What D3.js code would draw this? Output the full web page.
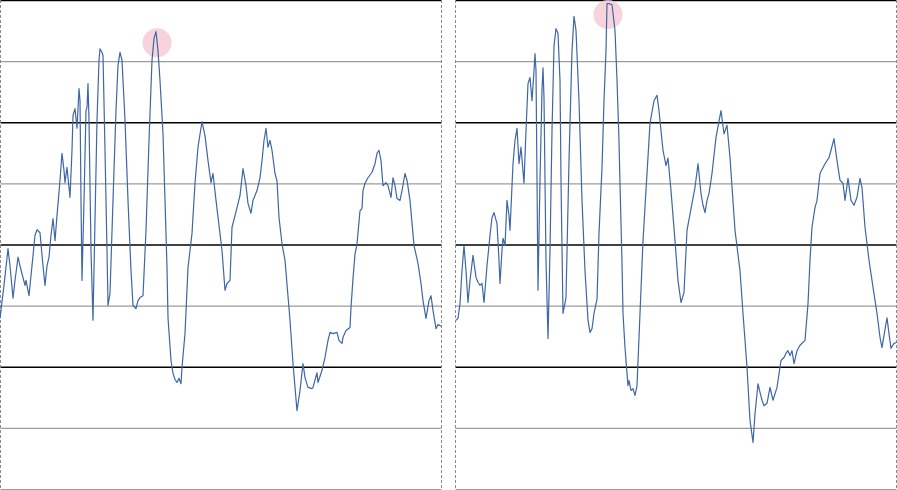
<!DOCTYPE html>
<html>
<head>
<meta charset="utf-8">
<script src="https://cdn.jsdelivr.net/npm/d3@7"></script>
<style>
  html, body { margin: 0; padding: 0; background: #ffffff; }
  svg { display: block; }
</style>
</head>
<body>
<svg id="chart" width="897" height="490"></svg>
<script>
// ---- data (sample index, value on a 0–80 scale) ----
const gridValues = [0, 10, 20, 30, 40, 50, 60, 70, 80];

const leftT = [
  0, 4, 8, 10, 13, 15, 18, 20, 22, 25,
  26, 29, 32, 35, 37, 40, 43, 45, 47, 49,
  51, 53, 55, 57, 60, 62, 64, 65, 67, 70,
  72, 73, 75, 77, 79, 80, 81, 82, 84, 86,
  87, 88, 89, 91, 93, 95, 97, 99, 100, 102,
  103, 105, 107, 108, 110, 113, 116, 118, 120, 122,
  125, 128, 131, 133, 136, 138, 140, 143, 146, 149,
  152, 154, 156, 158, 160, 163, 165, 167, 168, 171,
  173, 175, 177, 179, 181, 182, 185, 188, 192, 195,
  198, 202, 205, 208, 211, 213, 216, 219, 222, 225,
  227, 230, 232, 235, 237, 240, 243, 246, 248, 251,
  253, 257, 260, 262, 264, 266, 268, 270, 272, 275,
  277, 279, 282, 285, 290, 293, 295, 297, 300, 303,
  305, 308, 312, 313, 317, 318, 322, 325, 328, 330,
  333, 337, 339, 342, 343, 346, 350, 351, 353, 355,
  357, 360, 362, 363, 365, 368, 372, 375, 377, 379,
  381, 383, 386, 388, 391, 393, 395, 397, 400, 402,
  405, 407, 410, 414, 418, 421, 423, 426, 429, 431,
  433, 436, 438, 441
];
const leftV = [
  28.0, 33.4, 39.4, 36.6, 31.3, 34.2, 38.0, 36.6, 35.3, 33.4,
  34.2, 31.7, 36.6, 41.6, 42.5, 42.0, 36.6, 33.4, 36.6, 38.0,
  41.6, 44.3, 40.7, 44.8, 50.6, 55.0, 52.2, 50.2, 52.7, 47.8,
  55.5, 61.2, 62.3, 59.1, 65.6, 63.6, 47.3, 34.2, 47.3, 62.0,
  62.5, 66.4, 60.4, 39.1, 27.7, 44.0, 60.4, 70.2, 72.1, 71.5,
  71.0, 55.5, 39.1, 30.1, 32.1, 47.3, 62.0, 69.4, 71.5, 70.2,
  60.4, 47.3, 35.8, 30.1, 29.6, 30.9, 31.4, 31.7, 42.4, 57.1,
  70.2, 73.8, 74.9, 71.8, 66.9, 58.2, 47.3, 36.3, 28.1, 21.1,
  19.0, 18.0, 17.5, 18.2, 17.3, 20.0, 25.5, 36.3, 41.9, 50.1,
  56.0, 60.2, 57.9, 53.8, 50.2, 51.7, 47.3, 43.2, 39.1, 32.6,
  33.7, 34.2, 42.9, 44.8, 46.1, 48.1, 52.5, 49.7, 46.8, 45.2,
  47.3, 48.9, 51.0, 53.8, 57.1, 59.1, 56.0, 57.1, 55.5, 51.7,
  50.5, 44.5, 40.2, 37.5, 27.7, 20.6, 16.7, 12.9, 16.2, 20.6,
  18.3, 16.7, 16.5, 16.7, 19.1, 17.5, 19.5, 21.6, 24.4, 25.7,
  25.5, 25.7, 24.4, 23.9, 24.9, 26.0, 26.5, 29.8, 34.5, 38.5,
  40.2, 45.6, 46.0, 48.9, 50.1, 51.0, 51.9, 53.3, 55.0, 55.5,
  53.8, 49.7, 50.2, 49.7, 47.8, 51.0, 49.7, 47.6, 47.3, 48.9,
  51.7, 50.6, 47.3, 39.9, 37.0, 33.7, 30.9, 28.0, 30.9, 31.7,
  29.3, 26.3, 27.0, 26.7
];

const rightT = [
  0, 2, 4, 6, 8, 10, 12, 14, 17, 20,
  22, 24, 26, 28, 31, 34, 36, 38, 41, 43,
  44, 46, 47, 49, 51, 53, 54, 56, 57, 59,
  61, 63, 65, 68, 70, 72, 74, 76, 78, 79,
  80, 81, 82, 84, 86, 87, 88, 89, 90, 92,
  94, 96, 98, 100, 102, 104, 105, 107, 110, 113,
  116, 118, 120, 123, 126, 129, 132, 134, 136, 138,
  141, 143, 146, 148, 150, 151, 153, 156, 159, 161,
  163, 164, 166, 167, 169, 171, 172, 173, 175, 177,
  179, 181, 184, 187, 191, 194, 198, 201, 203, 205,
  207, 210, 212, 215, 219, 222, 225, 228, 231, 236,
  239, 242, 245, 247, 249, 251, 253, 256, 260, 265,
  268, 271, 274, 279, 284, 287, 291, 294, 297, 299,
  302, 304, 306, 308, 311, 314, 317, 321, 325, 328,
  330, 332, 334, 336, 338, 341, 344, 349, 352, 354,
  356, 359, 361, 364, 369, 373, 375, 378, 381, 384,
  387, 389, 392, 395, 398, 401, 404, 406, 409, 413,
  417, 421, 424, 426, 428, 431, 433, 435, 438, 441
];
const rightV = [
  27.7, 28.0, 30.4, 35.8, 39.9, 35.8, 30.6, 34.2, 38.3, 34.7,
  33.9, 33.4, 33.7, 30.6, 36.6, 41.6, 44.5, 45.3, 43.5, 37.5,
  33.7, 39.1, 41.1, 39.9, 47.3, 44.8, 42.4, 49.7, 53.3, 57.1,
  59.1, 53.3, 56.0, 50.1, 58.7, 66.4, 67.4, 63.6, 68.5, 71.3,
  68.5, 50.6, 32.6, 50.6, 65.3, 69.0, 64.1, 50.6, 37.5, 24.7,
  39.1, 58.7, 72.6, 75.4, 74.6, 66.9, 50.6, 28.8, 31.4, 53.8,
  71.8, 77.4, 75.1, 63.6, 47.3, 35.8, 27.7, 25.7, 26.3, 28.8,
  31.1, 41.9, 52.7, 63.6, 71.8, 79.5, 79.5, 79.3, 75.1, 67.0,
  57.0, 50.0, 37.0, 28.8, 23.2, 19.0, 17.0, 17.8, 16.2, 16.5,
  15.4, 17.0, 28.8, 40.7, 51.7, 59.9, 63.6, 64.5, 62.0, 58.7,
  55.5, 53.0, 54.2, 48.9, 40.7, 34.2, 30.6, 32.2, 42.4, 46.8,
  49.4, 53.3, 48.4, 46.5, 45.3, 47.3, 48.4, 51.7, 57.6, 62.0,
  58.2, 59.6, 54.3, 42.4, 35.8, 28.8, 20.0, 11.3, 7.7, 12.4,
  17.3, 15.9, 14.6, 13.7, 14.1, 16.7, 14.6, 16.7, 21.1, 21.6,
  22.3, 22.7, 21.9, 22.7, 20.6, 22.7, 23.6, 24.4, 30.4, 37.5,
  42.9, 46.1, 47.3, 51.7, 53.3, 54.3, 55.5, 57.4, 53.8, 50.6,
  50.1, 47.3, 50.9, 47.3, 46.5, 47.8, 50.9, 49.4, 42.9, 37.5,
  33.1, 28.8, 24.9, 23.2, 25.2, 28.1, 25.5, 23.1, 23.9, 24.1
];

const panels = [
  { t: leftT, v: leftV, x0: 0.5, x1: 441.5, lx0: 0, lx1: 441 },
  { t: rightT, v: rightV, x0: 455.5, x1: 896.5, lx0: 456, lx1: 897 }
];

// ---- drawing ----
const svg = d3.select("#chart");
const H = 490;
const y = d3.scaleLinear().domain([0, 80]).range([489.5, 0.5]);

panels.forEach(p => {
  const g = svg.append("g");
  const x = d3.scaleLinear().domain([0, 441]).range([p.lx0, p.lx1]);

  // horizontal grid lines
  g.selectAll("line.grid")
    .data(gridValues)
    .join("line")
    .attr("class", "grid")
    .attr("x1", p.x0).attr("x2", p.x1)
    .attr("y1", d => y(d)).attr("y2", d => y(d))
    .attr("stroke", d => (d % 20 === 0 && d !== 0) ? "#000000" : "#9c9c9c")
    .attr("stroke-width", d => (d % 20 === 0 && d !== 0) ? 1.4 : 1.1);

  // dashed vertical borders
  g.selectAll("line.border")
    .data([p.x0, p.x1])
    .join("line")
    .attr("class", "border")
    .attr("x1", d => d).attr("x2", d => d)
    .attr("y1", 0).attr("y2", H)
    .attr("stroke", "#8a8a8a")
    .attr("stroke-width", 1)
    .attr("stroke-dasharray", "3,2");

  const pts = p.t.map((t, i) => [t, p.v[i]]);

  // highlight of the maximum
  const iMax = d3.maxIndex(p.v);
  g.append("circle")
    .attr("cx", x(p.t[iMax]) + 1)
    .attr("cy", y(p.v[iMax]) + 11)
    .attr("r", 14.5)
    .attr("fill", "#f6cdd6")
    .attr("opacity", 0.85);

  const line = d3.line()
    .x(d => x(d[0]))
    .y(d => y(d[1]));

  g.append("path")
    .datum(pts)
    .attr("d", line)
    .attr("fill", "none")
    .attr("stroke", "#3e67a6")
    .attr("stroke-width", 1.2)
    .attr("stroke-linejoin", "round");
});
</script>
</body>
</html>
